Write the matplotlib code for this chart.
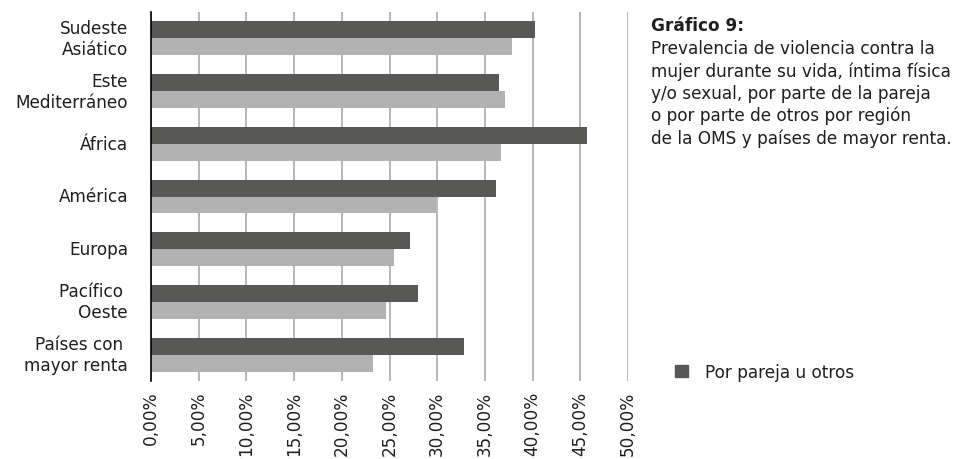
import matplotlib
matplotlib.use("Agg")
import matplotlib.pyplot as plt
import numpy as np
from matplotlib.patches import Patch

categories = ["Sudeste\nAsiático", "Este\nMediterráneo", "África", "América",
              "Europa", "Pacífico \nOeste", "Países con \nmayor renta"]
dark_values = [40.2, 36.5, 45.7, 36.2, 27.2, 28.0, 32.8]
light_values = [37.8, 37.1, 36.7, 29.9, 25.5, 24.6, 23.3]
xticks = [0, 5, 10, 15, 20, 25, 30, 35, 40, 45, 50]
xtick_labels = ["0,00%", "5,00%", "10,00%", "15,00%", "20,00%", "25,00%",
                "30,00%", "35,00%", "40,00%", "45,00%", "50,00%"]
legend_label = "Por pareja u otros"
title_bold = "Gráfico 9:"
title_text = ("Prevalencia de violencia contra la\nmujer durante su vida, íntima física\n"
              "y/o sexual, por parte de la pareja\no por parte de otros por región\n"
              "de la OMS y países de mayor renta.")

DARK = "#585856"
LIGHT = "#b2b2b2"
TXT = "#1e1e1e"
FS = 12.2

plt.rcParams['font.family'] = ['DejaVu Sans']

fig = plt.figure(figsize=(9.68, 4.6), dpi=100)
ax = fig.add_axes([151/968, 1-382/460, (628-151)/968, (382-13)/460])

y = np.arange(len(categories))
h = 0.32
ax.barh(y - h/2, dark_values, height=h, color=DARK, zorder=3)
ax.barh(y + h/2, light_values, height=h, color=LIGHT, zorder=3)

ax.set_xlim(0, 50)
ax.set_ylim(len(categories) - 0.5, -0.5)
ax.set_xticks(xticks)
ax.set_xticklabels(xtick_labels, rotation=90, fontsize=FS, color=TXT)
ax.set_yticks(y)
ax.set_yticklabels(categories, fontsize=FS, color=TXT, ha="right", va="center",
                   multialignment="right", linespacing=1.22)
ax.tick_params(axis="both", length=0)
ax.tick_params(axis="x", pad=7)
ax.tick_params(axis="y", pad=16.5)
ax.grid(axis="x", color="#aaaaaa", linewidth=1.2, zorder=0)
for s in ["top", "right", "bottom"]:
    ax.spines[s].set_visible(False)
ax.spines["left"].set_color("black")
ax.spines["left"].set_linewidth(1.2)
ax.spines["left"].set_zorder(4)

fig.text(651/968, 1-26/460, title_bold, fontsize=FS, fontweight="bold", color=TXT, va="center")
fig.text(651/968, 1-40/460, title_text, fontsize=FS, color=TXT, va="top",
         linespacing=1.29)

fig.legend(handles=[Patch(color=DARK, label=legend_label)], loc="center left",
           bbox_to_anchor=(660/968, 1-373/460), frameon=False, fontsize=FS,
           handlelength=0.75, handleheight=0.75, handletextpad=1.0, labelcolor=TXT)

fig.savefig("out.png", dpi=100)
